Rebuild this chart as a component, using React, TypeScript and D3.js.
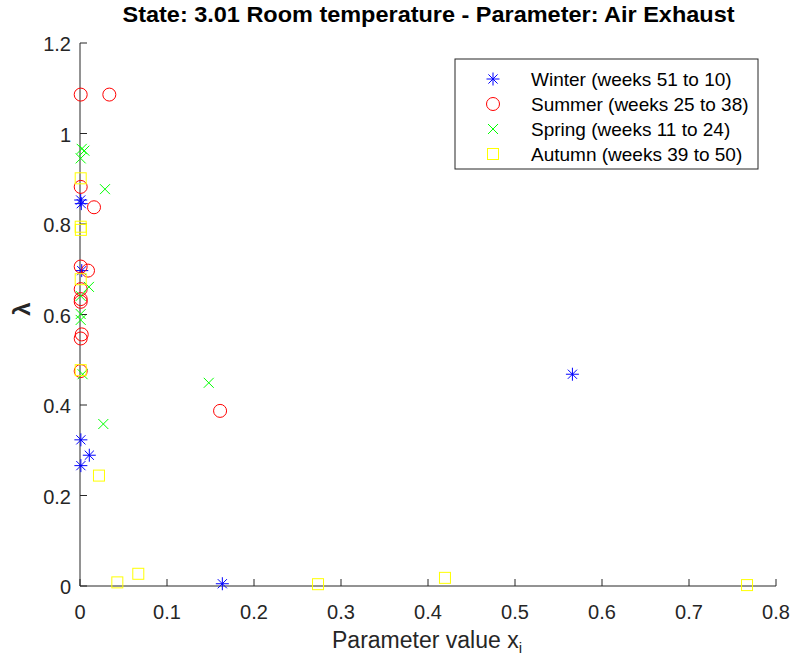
import React from 'react';
import * as d3 from 'd3';

// values: [x, lambda]
const winter: [number, number][] = [
  [0.0008, 0.853], [0.0015, 0.845], [0.002, 0.697], [0.001, 0.323],
  [0.0107, 0.289], [0.001, 0.266], [0.1636, 0.005], [0.566, 0.468],
];
const summer: [number, number][] = [
  [0.0008, 1.086], [0.0337, 1.086], [0.0008, 0.882], [0.0161, 0.837],
  [0.0008, 0.706], [0.0092, 0.697], [0.0008, 0.656], [0.0008, 0.634],
  [0.0008, 0.628], [0.002, 0.556], [0.0008, 0.547], [0.0008, 0.475],
  [0.161, 0.387],
];
const spring: [number, number][] = [
  [0.002, 0.966], [0.005, 0.962], [0.0008, 0.945], [0.0287, 0.877],
  [0.0103, 0.661], [0.0008, 0.641], [0.0008, 0.601], [0.0008, 0.588],
  [0.003, 0.468], [0.0268, 0.358], [0.148, 0.449],
];
const autumn: [number, number][] = [
  [0.0008, 0.901], [0.0008, 0.794], [0.001, 0.787], [0.0008, 0.678],
  [0.0008, 0.477], [0.0218, 0.244], [0.0429, 0.008], [0.067, 0.027],
  [0.2736, 0.004], [0.4195, 0.018], [0.7667, 0.002],
];

const xTicks = [0, 0.1, 0.2, 0.3, 0.4, 0.5, 0.6, 0.7, 0.8];
const yTicks = [0, 0.2, 0.4, 0.6, 0.8, 1, 1.2];

const series = [
  { name: 'Winter (weeks 51 to 10)', data: winter, color: '#0000ff', marker: 'star' },
  { name: 'Summer (weeks 25 to 38)', data: summer, color: '#ff0000', marker: 'circle' },
  { name: 'Spring (weeks 11 to 24)', data: spring, color: '#00ff00', marker: 'cross' },
  { name: 'Autumn (weeks 39 to 50)', data: autumn, color: '#ffff00', marker: 'square' },
];

const W = 792;
const H = 657;
const left = 80, right = 776, top = 43, bottom = 586;
const axisColor = '#262626';
const font = 'Liberation Sans, Arial, Helvetica, sans-serif';

function Marker({ kind, x, y, color }: { kind: string; x: number; y: number; color: string }) {
  const sw = 1;
  if (kind === 'circle') {
    return <circle cx={x} cy={y} r={6.5} fill="none" stroke={color} strokeWidth={sw} />;
  }
  if (kind === 'square') {
    return <rect x={x - 5.5} y={y - 5.5} width={11} height={11} fill="none" stroke={color} strokeWidth={sw} />;
  }
  if (kind === 'cross') {
    const s = 5;
    return (
      <path d={`M${x - s},${y - s}L${x + s},${y + s}M${x - s},${y + s}L${x + s},${y - s}`} stroke={color} strokeWidth={sw} fill="none" />
    );
  }
  // star: plus + x
  const s = 6.5;
  const d = 4.6;
  return (
    <path
      d={`M${x - s},${y}L${x + s},${y}M${x},${y - s}L${x},${y + s}M${x - d},${y - d}L${x + d},${y + d}M${x - d},${y + d}L${x + d},${y - d}`}
      stroke={color}
      strokeWidth={sw}
      fill="none"
    />
  );
}

export default function App() {
  const x = d3.scaleLinear().domain([0, 0.8]).range([left, right]);
  const y = d3.scaleLinear().domain([0, 1.2]).range([bottom, top]);
  const fmt = (v: number) => (v === 0 ? '0' : String(+v.toFixed(1)));

  const legX = 455, legY = 59, legW = 303, legH = 110;

  return (
    <svg width={W} height={H} style={{ position: 'absolute', left: 0, top: 0, background: '#fff' }} fontFamily={font}>
      <rect x={0} y={0} width={W} height={H} fill="#fff" />
      <text x={428.5} y={22} textAnchor="middle" fontSize={22.5} fontWeight="bold" fill="#000" textLength={612} lengthAdjust="spacingAndGlyphs">
        State: 3.01 Room temperature - Parameter: Air Exhaust
      </text>

      {/* axes */}
      <line x1={left} y1={top} x2={left} y2={bottom} stroke={axisColor} strokeWidth={1} />
      <line x1={left} y1={bottom} x2={right} y2={bottom} stroke={axisColor} strokeWidth={1} />
      {yTicks.map((t) => (
        <g key={'y' + t}>
          <line x1={left} x2={left + 7} y1={y(t)} y2={y(t)} stroke={axisColor} />
          <text x={71} y={y(t) + 8} textAnchor="end" fontSize={20} fill={axisColor}>{fmt(t)}</text>
        </g>
      ))}
      {xTicks.map((t) => (
        <g key={'x' + t}>
          <line x1={x(t)} x2={x(t)} y1={bottom} y2={bottom - 7} stroke={axisColor} />
          <text x={x(t)} y={619} textAnchor="middle" fontSize={20} fill={axisColor}>{fmt(t)}</text>
        </g>
      ))}
      <text x={332} y={648} fontSize={23} fill={axisColor}>
        Parameter value x<tspan fontSize={15} dy={5}>i</tspan>
      </text>
      <text transform="translate(30,309) rotate(-90)" textAnchor="middle" fontSize={24} fill={axisColor} fontWeight="bold">λ</text>

      {/* data */}
      {series.map((s) => (
        <g key={s.name}>
          {s.data.map((d, i) => (
            <Marker key={i} kind={s.marker} x={x(d[0])} y={y(d[1])} color={s.color} />
          ))}
        </g>
      ))}

      {/* legend */}
      <rect x={legX} y={legY} width={legW} height={legH} fill="#fff" stroke={axisColor} strokeWidth={1} />
      {series.map((s, i) => (
        <g key={'leg' + i}>
          <Marker kind={s.marker} x={493} y={79 + i * 25} color={s.color} />
          <text x={531} y={79 + i * 25 + 7} fontSize={19} fill="#000">{s.name}</text>
        </g>
      ))}
    </svg>
  );
}
